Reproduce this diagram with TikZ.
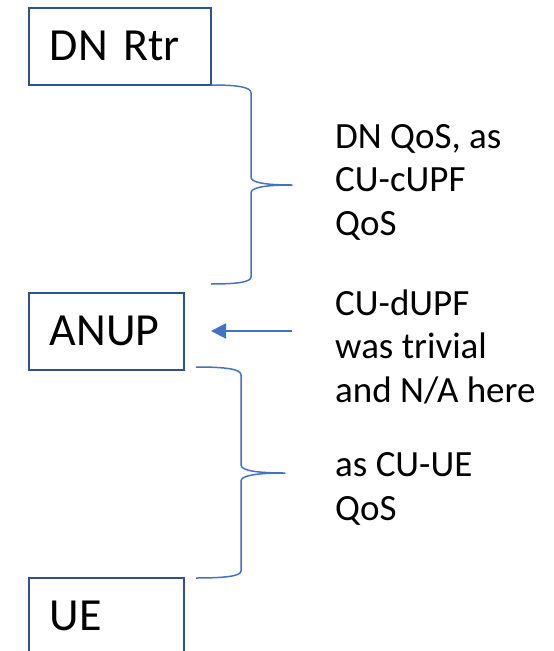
\documentclass[tikz,border=0pt]{standalone}
\usepackage{fontspec}
\setmainfont{Carlito}
\usetikzlibrary{arrows.meta}
\definecolor{boxline}{HTML}{2F528F}
\definecolor{accent}{HTML}{4472C4}
\tikzset{
  unitbox/.style={draw=boxline, line width=1.5pt, rectangle, minimum height=77pt,
    inner xsep=21pt, inner ysep=0pt, align=left, anchor=north west,
    font=\fontsize{46}{55}\selectfont},
  % multi-line notes are placed by the baseline of their last line
  note/.style={anchor=base west, inner sep=0pt, align=left,
    font=\fontsize{37}{43.5}\selectfont},
  bracket/.style={draw=accent, line width=1.5pt, line join=round},
  pointer/.style={draw=accent, line width=2pt, -{Triangle[length=15pt,width=15pt]}}
}
\begin{document}
\begin{tikzpicture}[x=1pt, y=-1pt]
  \useasboundingbox (0,0) rectangle (554,651);
  \clip (0,0) rectangle (554,651);

  % network elements
  \node[unitbox, text width=140pt] (dn) at (28,7) {DN Rtr};
  \node[unitbox, text width=113pt] (anup) at (28,292) {ANUP};
  \node[unitbox, text width=113pt] (ue) at (28,577) {UE};

  % annotations
  \node[note] (q1) at (335,235) {DN QoS, as\\CU-cUPF\\QoS};
  \node[note] (q2) at (335,402) {CU-dUPF\\was trivial\\and N/A here};
  \node[note] (q3) at (335,520) {as CU-UE\\QoS};

  % brace between DN Rtr and ANUP
  \coordinate (b1top) at (211,85);
  \coordinate (b1tip) at (292,185);
  \coordinate (b1bot) at (211,284);
  \draw[bracket] (b1top) .. controls (238,85) and (251,87) .. (251,93)
    -- (251,177) .. controls (251,182) and (262,185) .. (b1tip)
    .. controls (262,185) and (251,188) .. (251,193)
    -- (251,277) .. controls (251,282) and (238,284) .. (b1bot);

  % brace between ANUP and UE
  \coordinate (b2top) at (196,367);
  \coordinate (b2tip) at (285,473);
  \coordinate (b2bot) at (196,578);
  \draw[bracket] (b2top) .. controls (226,367) and (241,369) .. (241,375)
    -- (241,465) .. controls (241,470) and (254,473) .. (b2tip)
    .. controls (254,473) and (241,476) .. (241,481)
    -- (241,571) .. controls (241,576) and (226,578) .. (b2bot);

  % arrow towards ANUP
  \coordinate (arrtail) at (292,331);
  \coordinate (arrtip) at (211,331);
  \draw[pointer] (arrtail) -- (arrtip);
\end{tikzpicture}
\end{document}
